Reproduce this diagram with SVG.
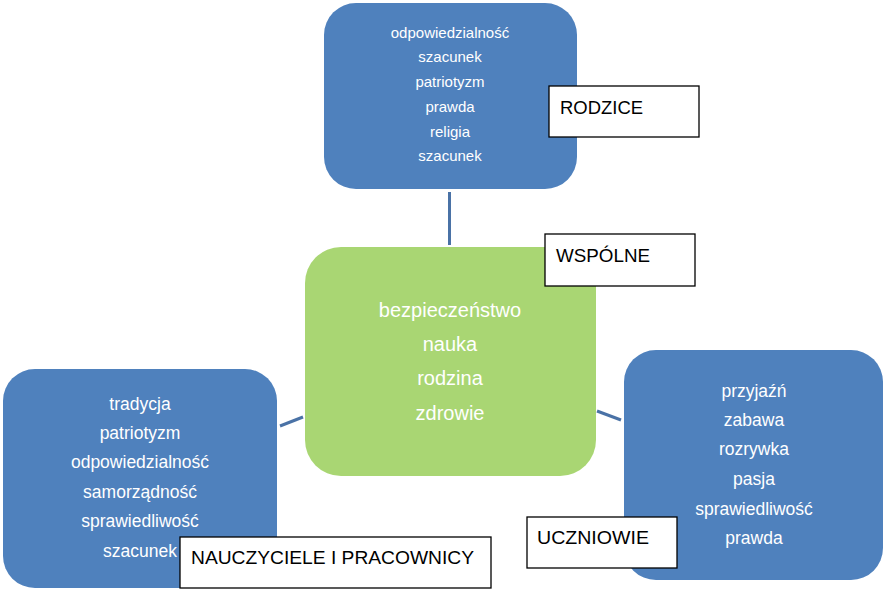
<svg xmlns="http://www.w3.org/2000/svg" width="891" height="600" viewBox="0 0 891 600">
<style>
.blue{fill:#4f81bd;}
.green{fill:#a9d673;}
.wt{fill:#ffffff;font-family:"Liberation Sans",Arial,sans-serif;text-anchor:middle;}
.lbl{fill:#ffffff;stroke:#000000;stroke-width:1.3;}
.lt{fill:#000000;font-family:"Liberation Sans",Arial,sans-serif;font-size:19px;}
.con{stroke:#4a72a6;stroke-width:3;fill:none;}
</style>
<rect width="891" height="600" fill="#ffffff"/>
<g id="connectors">
<line class="con" x1="449.5" y1="192" x2="449.5" y2="245"/>
<line class="con" x1="280" y1="426" x2="303" y2="417"/>
<line class="con" x1="597" y1="411" x2="621" y2="420"/>
</g>
<g id="rodzice">
<rect class="blue" x="324" y="3" width="253" height="186" rx="32"/>
<g class="wt" font-size="15">
<text x="450" y="38">odpowiedzialność</text>
<text x="450" y="62">szacunek</text>
<text x="450" y="87">patriotyzm</text>
<text x="450" y="112">prawda</text>
<text x="450" y="137">religia</text>
<text x="450" y="161">szacunek</text>
</g>
<rect class="lbl" x="549" y="86" width="150" height="51"/>
<text class="lt" x="560" y="114" textLength="83" lengthAdjust="spacingAndGlyphs">RODZICE</text>
</g>
<g id="wspolne">
<rect class="green" x="305" y="247" width="291" height="229" rx="36"/>
<g class="wt" font-size="20">
<text x="450" y="317">bezpieczeństwo</text>
<text x="450" y="351">nauka</text>
<text x="450" y="385">rodzina</text>
<text x="450" y="420">zdrowie</text>
</g>
<rect class="lbl" x="545" y="234" width="150" height="52"/>
<text class="lt" x="556" y="262" textLength="94" lengthAdjust="spacingAndGlyphs">WSPÓLNE</text>
</g>
<g id="nauczyciele">
<rect class="blue" x="3" y="369" width="274" height="219" rx="32"/>
<g class="wt" font-size="17.5">
<text x="140" y="410">tradycja</text>
<text x="140" y="439">patriotyzm</text>
<text x="140" y="468">odpowiedzialność</text>
<text x="140" y="498">samorządność</text>
<text x="140" y="527">sprawiedliwość</text>
<text x="140" y="557">szacunek</text>
</g>
<rect class="lbl" x="180" y="537" width="311" height="51"/>
<text class="lt" x="191" y="564" textLength="283" lengthAdjust="spacingAndGlyphs">NAUCZYCIELE I PRACOWNICY</text>
</g>
<g id="uczniowie">
<rect class="blue" x="624" y="350" width="259" height="230" rx="32"/>
<g class="wt" font-size="17.5">
<text x="754" y="397">przyjaźń</text>
<text x="754" y="426">zabawa</text>
<text x="754" y="455">rozrywka</text>
<text x="754" y="485">pasja</text>
<text x="754" y="515">sprawiedliwość</text>
<text x="754" y="544">prawda</text>
</g>
<rect class="lbl" x="527" y="517" width="150" height="51"/>
<text class="lt" x="537" y="544" textLength="112" lengthAdjust="spacingAndGlyphs">UCZNIOWIE</text>
</g>
</svg>
